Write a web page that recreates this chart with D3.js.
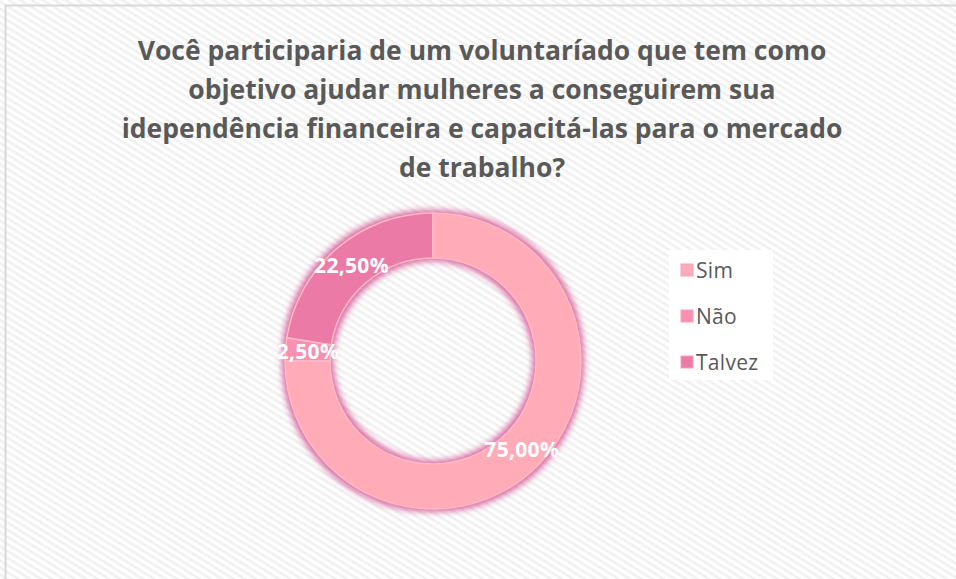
<!DOCTYPE html>
<html>
<head>
<meta charset="utf-8">
<script src="https://cdn.jsdelivr.net/npm/d3@7"></script>
<style>
  body { margin: 0; background: #fff; }
</style>
</head>
<body>
<div id="chart"></div>
<script>
// Chart data
var categories = ["Sim", "Não", "Talvez"];
var values = [75.0, 2.5, 22.5];
var labels = ["75,00%", "2,50%", "22,50%"];
var colors = ["#FFACB8", "#FA8FB1", "#EC7AA6"];
var titleLines = [
    "Você participaria de um voluntaríado que tem como",
    "objetivo ajudar mulheres a conseguirem sua",
    "idependência financeira e capacitá-las para o mercado",
    "de trabalho?"
];

var svgWidth = 956;
var svgHeight = 579;

var svg = d3.select("#chart")
    .append("svg")
    .attr("width", svgWidth)
    .attr("height", svgHeight);

var defs = svg.append("defs");

// hatched background
var pattern = defs.append("pattern")
    .attr("id", "hatch")
    .attr("patternUnits", "userSpaceOnUse")
    .attr("width", 6)
    .attr("height", 6)
    .attr("patternTransform", "rotate(32)");
pattern.append("rect").attr("width", 6).attr("height", 6).attr("fill", "#ffffff");
pattern.append("rect").attr("width", 6).attr("height", 2.5).attr("fill", "#f0f0f0");

// pink glow around the ring
var glow = defs.append("filter")
    .attr("id", "glow")
    .attr("x", "-20%").attr("y", "-20%")
    .attr("width", "140%").attr("height", "140%");
glow.append("feMorphology")
    .attr("in", "SourceAlpha")
    .attr("operator", "dilate")
    .attr("radius", 2.5)
    .attr("result", "thick");
glow.append("feGaussianBlur")
    .attr("in", "thick")
    .attr("stdDeviation", 3)
    .attr("result", "blur");
glow.append("feFlood").attr("flood-color", "#d65a98").attr("flood-opacity", 0.9);
glow.append("feComposite").attr("in2", "blur").attr("operator", "in").attr("result", "glowColor");
var merge = glow.append("feMerge");
merge.append("feMergeNode").attr("in", "glowColor");
merge.append("feMergeNode").attr("in", "SourceGraphic");

// background + frame
svg.append("rect")
    .attr("x", 0).attr("y", 0)
    .attr("width", svgWidth).attr("height", svgHeight)
    .attr("fill", "url(#hatch)");
svg.append("rect")
    .attr("x", 5.5).attr("y", 5.5)
    .attr("width", svgWidth + 20).attr("height", svgHeight + 20)
    .attr("fill", "none")
    .attr("stroke", "#d9d9d9")
    .attr("stroke-width", 2);

// title
var title = svg.append("text")
    .attr("text-anchor", "middle")
    .attr("font-family", "'Open Sans', sans-serif")
    .attr("font-weight", "bold")
    .attr("font-size", 26.5)
    .attr("fill", "#595959");
title.selectAll("tspan")
    .data(titleLines)
    .enter().append("tspan")
    .attr("x", 482)
    .attr("y", function(d, i) { return 60 + i * 39; })
    .text(function(d) { return d; });

// donut
var cx = 433, cy = 361;
var outerRadius = 148, innerRadius = 103;

var pie = d3.pie().sort(null).value(function(d) { return d; });
var arc = d3.arc().innerRadius(innerRadius).outerRadius(outerRadius);

var donut = svg.append("g")
    .attr("transform", "translate(" + cx + "," + cy + ")");

var ring = donut.append("g").attr("filter", "url(#glow)");
ring.selectAll("path")
    .data(pie(values))
    .enter().append("path")
    .attr("d", arc)
    .attr("fill", function(d, i) { return colors[i]; });

// thin light borders between slices
donut.selectAll("path.edge")
    .data(pie(values))
    .enter().append("path")
    .attr("class", "edge")
    .attr("d", arc)
    .attr("fill", "none")
    .attr("stroke", "#ffb8c4")
    .attr("stroke-width", 1.5);

donut.selectAll("text")
    .data(pie(values))
    .enter().append("text")
    .attr("transform", function(d) { return "translate(" + arc.centroid(d) + ")"; })
    .attr("text-anchor", "middle")
    .attr("dy", "0.35em")
    .attr("font-family", "'Open Sans', sans-serif")
    .attr("font-weight", "bold")
    .attr("font-size", 21)
    .attr("letter-spacing", 0.3)
    .attr("fill", "#ffffff")
    .text(function(d, i) { return labels[i]; });

// legend
var legend = svg.append("g");
legend.append("rect")
    .attr("x", 669).attr("y", 250)
    .attr("width", 104).attr("height", 130)
    .attr("fill", "#ffffff");

var legendScale = d3.scalePoint()
    .domain(categories)
    .range([270, 362]);

var items = legend.selectAll("g.item")
    .data(categories)
    .enter().append("g")
    .attr("class", "item")
    .attr("transform", function(d) { return "translate(681," + legendScale(d) + ")"; });
items.append("rect")
    .attr("x", 0).attr("y", -6)
    .attr("width", 12).attr("height", 12)
    .attr("fill", function(d, i) { return colors[i]; })
    .attr("stroke", "#f7a0b8")
    .attr("stroke-width", 1);
items.append("text")
    .attr("x", 15)
    .attr("dy", "0.36em")
    .attr("font-family", "'Open Sans', sans-serif")
    .attr("font-size", 21)
    .attr("letter-spacing", 0.3)
    .attr("fill", "#595959")
    .text(function(d) { return d; });
</script>
</body>
</html>
